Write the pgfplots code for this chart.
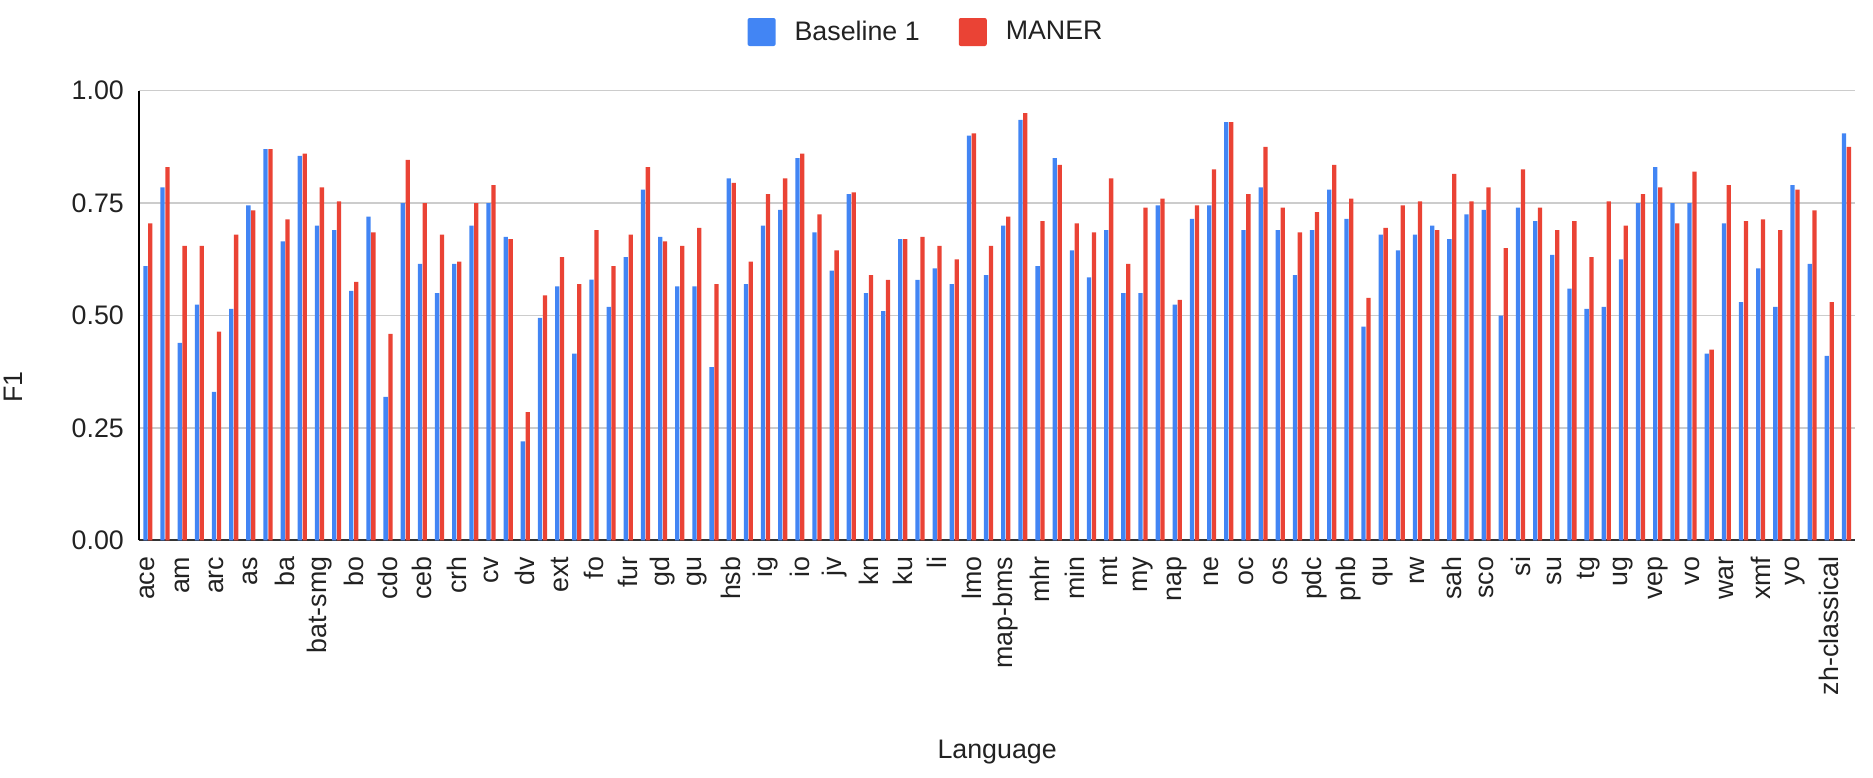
\documentclass[border=0pt]{standalone}
\usepackage{fontspec}
\setmainfont{Liberation Sans}
\usepackage{pgfplots}
\usepackage{pgfplotstable}
\pgfplotsset{compat=1.18}
\definecolor{gblue}{HTML}{4285F4}
\definecolor{gred}{HTML}{EA4335}
\definecolor{txt}{HTML}{222222}
\definecolor{grd}{HTML}{CCCCCC}
\definecolor{axl}{HTML}{333333}

\pgfplotstableread{
x b m
0 0.610 0.705
1 0.785 0.830
2 0.439 0.655
3 0.524 0.655
4 0.330 0.464
5 0.515 0.680
6 0.745 0.734
7 0.870 0.870
8 0.665 0.714
9 0.855 0.860
10 0.700 0.785
11 0.690 0.754
12 0.555 0.575
13 0.720 0.685
14 0.319 0.459
15 0.750 0.846
16 0.615 0.750
17 0.550 0.680
18 0.615 0.620
19 0.700 0.750
20 0.750 0.790
21 0.675 0.670
22 0.220 0.285
23 0.495 0.545
24 0.565 0.630
25 0.415 0.570
26 0.580 0.690
27 0.519 0.610
28 0.630 0.680
29 0.780 0.830
30 0.675 0.665
31 0.565 0.655
32 0.565 0.695
33 0.385 0.570
34 0.805 0.795
35 0.570 0.620
36 0.700 0.770
37 0.735 0.805
38 0.850 0.860
39 0.685 0.725
40 0.600 0.645
41 0.770 0.774
42 0.550 0.590
43 0.510 0.579
44 0.670 0.670
45 0.579 0.675
46 0.605 0.655
47 0.570 0.625
48 0.900 0.905
49 0.590 0.655
50 0.700 0.720
51 0.935 0.950
52 0.610 0.710
53 0.850 0.835
54 0.645 0.705
55 0.585 0.685
56 0.690 0.805
57 0.550 0.615
58 0.550 0.740
59 0.745 0.760
60 0.524 0.535
61 0.715 0.745
62 0.745 0.825
63 0.930 0.930
64 0.690 0.770
65 0.785 0.875
66 0.690 0.740
67 0.590 0.685
68 0.690 0.730
69 0.780 0.835
70 0.715 0.760
71 0.475 0.539
72 0.680 0.695
73 0.645 0.745
74 0.680 0.754
75 0.700 0.690
76 0.670 0.815
77 0.725 0.754
78 0.735 0.785
79 0.500 0.650
80 0.740 0.825
81 0.710 0.740
82 0.635 0.690
83 0.560 0.710
84 0.515 0.630
85 0.519 0.754
86 0.625 0.700
87 0.750 0.770
88 0.830 0.785
89 0.750 0.705
90 0.750 0.820
91 0.415 0.424
92 0.705 0.790
93 0.530 0.710
94 0.605 0.714
95 0.519 0.690
96 0.790 0.780
97 0.615 0.734
98 0.410 0.530
99 0.905 0.875
}\datatable

\begin{document}
\begin{tikzpicture}
\begin{axis}[
  name=ax,
  scale only axis,
  width=857.85pt, height=224.8pt,
  xmin=-0.5, xmax=99.5, ymin=0, ymax=1,
  ybar=0.3pt, bar width=0.25,
  axis x line*=bottom, axis y line*=left,
  x axis line style={-, draw=axl, line width=1pt},
  y axis line style={-, draw=black, line width=1pt},
  ymajorgrids, grid style={draw=grd, line width=0.7pt},
  major tick length=0pt,
  ytick={0,0.25,0.5,0.75,1},
  yticklabel={\pgfmathprintnumber[fixed,fixed zerofill,precision=2,assume math mode=true]{\tick}},
  yticklabel style={anchor=east, inner sep=0pt, text=txt, font=\fontsize{13.4}{16}\selectfont},
  yticklabel shift=7.5pt,
  xtick={0,2,...,98},
  xticklabels={ace,am,arc,as,ba,bat-smg,bo,cdo,ceb,crh,cv,dv,ext,fo,fur,gd,gu,hsb,ig,io,jv,kn,ku,li,lmo,map-bms,mhr,min,mt,my,nap,ne,oc,os,pdc,pnb,qu,rw,sah,sco,si,su,tg,ug,vep,vo,war,xmf,yo,zh-classical},
  xticklabel style={rotate=90, anchor=east, inner sep=0pt, text=txt, font=\fontsize{13.4}{16}\selectfont},
  xticklabel shift=8pt,
  xlabel={Language},
  xlabel style={at={([yshift=-105.85pt]axis description cs:0.5,0)}, anchor=center, text=txt, font=\fontsize{13.4}{16}\selectfont},
  ylabel={F1},
  ylabel style={at={([xshift=-63pt]axis description cs:0,0.341)}, anchor=center, text=txt, font=\fontsize{13.4}{16}\selectfont},
  legend columns=2,
  legend style={at={([yshift=29.35pt]axis description cs:0.458,1)}, anchor=center, draw=none, fill=none,
    font=\fontsize{13.4}{16}\selectfont, text=txt, nodes={inner sep=0pt},
    /tikz/every odd column/.style={column sep=9.5pt},
    /tikz/every even column/.style={column sep=19.5pt}},
]
\addplot[fill=gblue, draw=none, legend image code/.code={\fill[gblue, rounded corners=1pt] (0pt,-7pt) rectangle (14pt,7pt);}] table[x=x, y=b] {\datatable};
\addlegendentry{Baseline 1}
\addplot[fill=gred, draw=none, legend image code/.code={\fill[gred, rounded corners=1pt] (0pt,-7pt) rectangle (14pt,7pt);}] table[x=x, y=m] {\datatable};
\addlegendentry{MANER}
\end{axis}
\pgfresetboundingbox
\path[use as bounding box] ([shift={(-69.65pt,-118.35pt)}]ax.south west) rectangle ++(936.5pt,388.5pt);
\end{tikzpicture}
\end{document}
